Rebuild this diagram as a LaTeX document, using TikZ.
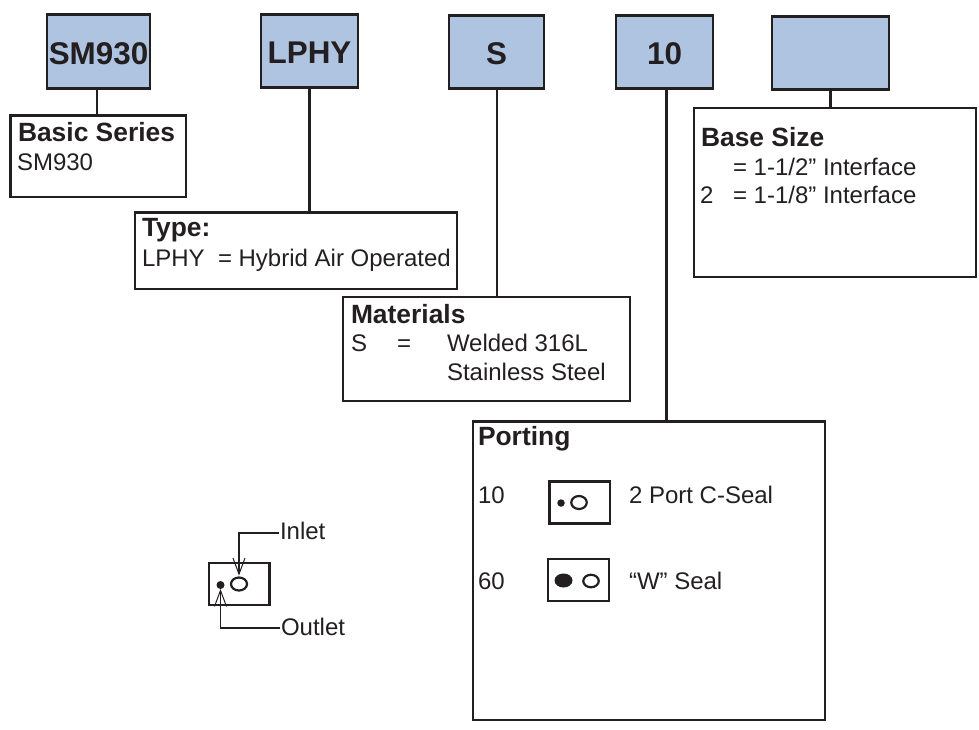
\documentclass[tikz,border=0pt]{standalone}
\usepackage{fontspec}
\setmainfont{Liberation Sans}
\usetikzlibrary{arrows.meta,shapes.geometric}
\definecolor{hdr}{RGB}{174,196,224}
\definecolor{ink}{RGB}{35,31,32}
\tikzset{
  x=1pt,y=-1pt,
  every node/.style={text=ink,inner sep=0pt,outer sep=0pt},
  boxn/.style={draw=ink,line width=2.7pt,rectangle,minimum width=#1},
  head/.style={draw=ink,line width=2.8pt,rectangle,fill=hdr,minimum width=#1,minimum height=73.5pt,
     font=\fontsize{31.4}{32}\selectfont\bfseries,text height=25pt,text depth=0pt},
  icon/.style={draw=ink,line width=2.7pt,rectangle,minimum width=#1,minimum height=42pt},
  wire/.style={draw=ink,line width=2.7pt},
  leader/.style={draw=ink,line width=1.2pt},
  ttext/.style={font=\fontsize{26.4}{30}\selectfont\bfseries,anchor=base west},
  btext/.style={font=\fontsize{24}{30}\selectfont,anchor=base west},
  openport/.style={draw=ink,line width=2.2pt,ellipse,minimum width=#1},
  solidport/.style={fill=ink,ellipse,minimum width=#1},
  open tip/.style={-{Straight Barb[length=16pt,width=12pt,line width=1pt]}},
}
\begin{document}
\begin{tikzpicture}
\useasboundingbox (0,0) rectangle (979,729);
% headers
\node[head=103pt] (h1) at (98.5,51.5) {SM930};
\node[head=97pt] (h2) at (309.5,51) {LPHY};
\node[head=95pt] (h3) at (496.5,52) {S};
\node[head=97pt] (h4) at (664.5,52) {10};
\node[head=117pt] (h5) at (830.5,53) {};
% detail boxes
\node[boxn=175.5pt,minimum height=81.5pt] (b1) at (98.25,156.25) {};
\node[boxn=322pt,minimum height=76.5pt] (b2) at (296,250.75) {};
\node[boxn=287pt,minimum height=104pt] (b3) at (486.5,349) {};
\node[boxn=282pt,minimum height=169pt] (b4) at (835,192.5) {};
\node[boxn=352pt,minimum height=298.5pt] (b5) at (649,570.75) {};
% connectors
\draw[wire] ([xshift=-1.5pt]h1.south) -- ([xshift=-1.5pt]h1.south |- b1.north);
\draw[wire] (h2.south) -- (h2.south |- b2.north);
\draw[wire] ([xshift=.5pt]h3.south) -- ([xshift=.5pt]h3.south |- b3.north);
\draw[wire] ([xshift=2pt]h4.south) -- ([xshift=2pt]h4.south |- b5.north);
\draw[wire] (h5.south) -- (h5.south |- b4.north);
% texts
\node[ttext] (a1) at (18,141) {Basic Series};
\node[btext] (a2) at (17,170) {SM930};
\node[ttext] (t1) at (142,236) {Type:};
\node[btext] (t2) at (142,266) {LPHY};
\node[btext] (t3) at (218,266) {= Hybrid Air Operated};
\node[ttext] (c1) at (351,323) {Materials};
\node[btext] (c2) at (351,351) {S};
\node[btext] (c3) at (397,351) {=};
\node[btext] (c4) at (447,351) {Welded 316L};
\node[btext] (c5) at (447,380) {Stainless Steel};
\node[ttext] (d1) at (701,146) {Base Size};
\node[btext] (d2) at (733,175) {= 1-1/2” Interface};
\node[btext] (d3) at (700,203.5) {2};
\node[btext] (d4) at (733,203.5) {= 1-1/8” Interface};
\node[ttext] (e1) at (478,445) {Porting};
\node[btext] (e2) at (478,503) {10};
\node[btext] (e3) at (629,503) {2 Port C-Seal};
\node[btext] (e4) at (478,589) {60};
\node[btext] (e5) at (629,589) {“W” Seal};
% port icons
\node[icon=60.5pt] (i1) at (579.75,502.25) {};
\node[solidport=7.5pt,minimum height=7.5pt] (i1a) at (561,503) {};
\node[openport=15.5pt,minimum height=13pt] (i1b) at (579,502.5) {};
\node[icon=61pt] (i2) at (578.5,580) {};
\node[solidport=18pt,minimum height=14pt] (i2a) at (563.5,580.5) {};
\node[openport=15.5pt,minimum height=12.5pt] (i2b) at (591,581) {};
% inlet / outlet key
\node[icon=60.5pt] (k) at (239.25,584) {};
\node[solidport=8pt,minimum height=8pt] (ko) at (220.5,585) {};
\node[openport=16pt,minimum height=13pt] (ki) at (239,584) {};
\node[btext] (in) at (280,539) {Inlet};
\node[btext] (out) at (281,635) {Outlet};
\coordinate (inj) at (279,533);
\coordinate (outj) at (280,628);
\draw[leader,open tip,shorten >=2pt] (inj) -| (ki.north);
\draw[leader,open tip] (outj) -| (ko.south);
\end{tikzpicture}
\end{document}
